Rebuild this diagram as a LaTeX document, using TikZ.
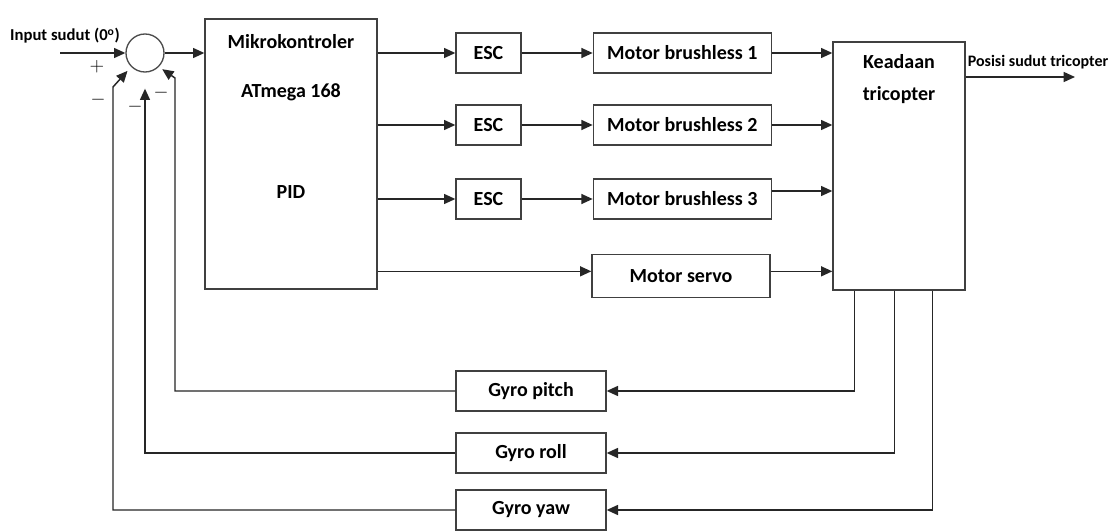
\documentclass[tikz,border=0pt]{standalone}
\usepackage{fontspec}
\setmainfont{Carlito}
\usetikzlibrary{arrows.meta,positioning}

\begin{document}
\begin{tikzpicture}[x=0.75pt, y=-0.75pt,
  blok/.style={draw=black!75, line width=1pt, minimum height=30pt, inner sep=0pt, font=\fontsize{15}{18}\selectfont\bfseries},
  teks/.style={inner sep=0pt, font=\fontsize{15}{18}\selectfont\bfseries},
  panah/.style={-{Triangle[length=8.5pt,width=7.5pt]}, line width=1.1pt, color=black!85},
  tanda/.style={inner sep=0pt, font=\fontsize{15}{16}\selectfont}]
\path[use as bounding box, fill=white] (0,0) rectangle (1114,531);

% penjumlah dan mikrokontroler
\node[draw=black!70, circle, line width=1pt, minimum size=28.5pt, inner sep=0pt] (sum) at (145,53) {};
\node[blok, minimum width=129pt, minimum height=202.5pt] (mikro) at (291,154) {};
\node[teks] (t1) at (291,42) {Mikrokontroler};
\node[teks] (t2) at (291,92) {ATmega 168};
\node[teks] (t3) at (291,192) {PID};

% ESC dan motor
\node[blok, minimum width=48.75pt] (esc1) at (488.5,53) {ESC};
\node[blok, minimum width=48.75pt] (esc2) at (488.5,125) {ESC};
\node[blok, minimum width=48.75pt] (esc3) at (488.5,199) {ESC};
\node[blok, minimum width=133.5pt, right=53.25pt of esc1] (m1) {Motor brushless 1};
\node[blok, minimum width=133.5pt, right=53.25pt of esc2] (m2) {Motor brushless 2};
\node[blok, minimum width=133.5pt, right=53.25pt of esc3] (m3) {Motor brushless 3};
\node[blok, minimum width=133.5pt, minimum height=32pt] (servo) at (681,276) {Motor servo};

% plant
\node[blok, minimum width=99pt, minimum height=186pt] (kead) at (899,166) {};
\node[teks] (k1) at (899,62) {Keadaan};
\node[teks] (k2) at (899,95) {tricopter};

% sensor
\node[blok, minimum width=112.5pt] (gp) at (531,391) {Gyro pitch};
\node[blok, minimum width=112.5pt] (gr) at (531,453) {Gyro roll};
\node[blok, minimum width=112.5pt] (gy) at (531,510) {Gyro yaw};

% label
\node[inner sep=0pt, font=\fontsize{12.5}{14}\selectfont\bfseries] (lin) at (65,36) {Input sudut (0\textsuperscript{o})};
\node[inner sep=0pt, font=\fontsize{12}{14}\selectfont\bfseries] (lout) at (1038,62) {Posisi sudut tricopter};
\node[tanda] (plus) at (97,67) {$+$};
\node[tanda] (min1) at (98,100) {$-$};
\node[tanda] (min2) at (135,107) {$-$};
\node[tanda] (min3) at (161,93) {$-$};

\coordinate (in) at (60,53);
\coordinate (out) at (1075,77);
\coordinate (kp) at (175,78);
\coordinate (ky) at (113,87);
\coordinate (sin) at ([yshift=3.5pt]servo.west);
\coordinate (sout) at ([yshift=3.5pt]servo.east);
\coordinate (m3out) at ([yshift=6pt]m3.east);

% jalur maju
\draw[panah] (in) -- (sum.west);
\draw[panah] (sum.east) -- (mikro.west |- sum.east);
\foreach \e in {esc1,esc2,esc3}
  \draw[panah] (mikro.east |- \e.west) -- (\e.west);
\draw[panah] (mikro.east |- sin) -- (sin);
\foreach \e/\m in {esc1/m1,esc2/m2,esc3/m3}
  \draw[panah] (\e.east) -- (\m.west);
\draw[panah] (m1.east) -- (m1.east -| kead.west);
\draw[panah] (m2.east) -- (m2.east -| kead.west);
\draw[panah] (m3out) -- (m3out -| kead.west);
\draw[panah] (sout) -- (sout -| kead.west);
\draw[panah] (kead.east |- out) -- (out);

% umpan balik
\draw[panah] ([xshift=16.5pt]kead.south west) |- (gp.east);
\draw[panah] ([xshift=46.5pt]kead.south west) |- (gr.east);
\draw[panah] ([xshift=75pt]kead.south west) |- (gy.east);
\draw[panah, shorten >=3pt] (gp.west) -| (kp) -- (sum.-45);
\draw[panah] (gr.west) -| ([yshift=-12pt]sum.south);
\draw[panah, shorten >=4pt] (gy.west) -| (ky) -- (sum.-135);
\end{tikzpicture}
\end{document}
